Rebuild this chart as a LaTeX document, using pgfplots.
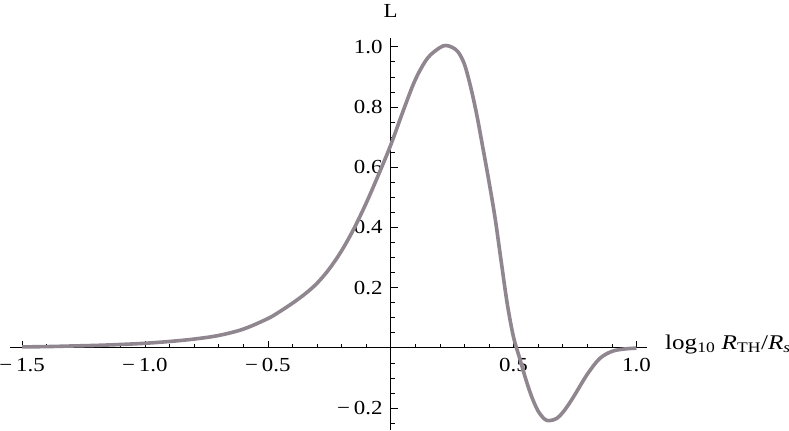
\documentclass[border=0pt]{standalone}
\usepackage{fontspec}
\setmainfont{Liberation Serif}
\usepackage{graphicx}
\usepackage{pgfplots}
\pgfplotsset{compat=1.18}
\definecolor{curve}{RGB}{143,134,143}
\newcommand{\tl}[1]{\scalebox{1.15}[1]{#1}}
\begin{document}
\fontsize{20}{23}\selectfont
\begin{tikzpicture}
\begin{axis}[
  scale only axis,
  width=637bp, height=392bp,
  axis lines=middle,
  axis line style={-, line width=0.7pt},
  xmin=-1.549, xmax=1.043,
  ymin=-0.273, ymax=1.029,
  xtick={-1.5,-1,-0.5,0.5,1},
  xticklabels={\tl{−\,1.5},\tl{−\,1.0},\tl{−\,0.5},\tl{0.5},\tl{1.0}},
  ytick={-0.2,0.2,0.4,0.6,0.8,1.0},
  yticklabels={\tl{−\,0.2},\tl{0.2},\tl{0.4},\tl{0.6},\tl{0.8},\tl{1.0}},
  minor xtick={-1.4,-1.3,-1.2,-1.1,-0.9,-0.8,-0.7,-0.6,-0.4,-0.3,-0.2,-0.1,0.1,0.2,0.3,0.4,0.6,0.7,0.8,0.9},
  minor ytick={-0.25,-0.15,-0.1,-0.05,0.05,0.1,0.15,0.25,0.3,0.35,0.45,0.5,0.55,0.65,0.7,0.75,0.85,0.9,0.95},
  tick align=inside,
  major tick length=7bp,
  minor tick length=4bp,
  tick style={black, line width=0.6pt},
  tick label style={font=\fontsize{20}{23}\selectfont},
  xticklabel style={anchor=base, inner sep=0pt, yshift=-23.5bp},
  yticklabel style={anchor=east, inner sep=0pt, xshift=-8bp},
  clip=false,
  xlabel={\scalebox{1.2}[1]{\fontsize{21}{24}\selectfont log\textsubscript{10} \textit{R}\textsubscript{TH}/\textit{R}\textsubscript{\textit{s}}}},
  ylabel={\tl{L}},
  xlabel style={anchor=base west, inner sep=0pt, at={(axis description cs:1,0.2097)}, xshift=18bp, yshift=-1.5bp},
  ylabel style={anchor=base, inner sep=0pt, at={(axis description cs:0.5976,1)}, yshift=20bp, font=\fontsize{20}{23}\selectfont},
]
\addplot[color=curve, line width=3.6bp, smooth, tension=0.55] coordinates {
(-1.5,0.003) (-1.4,0.004) (-1.3,0.006) (-1.2,0.008) (-1.1,0.011) (-1.0,0.015)
(-0.9,0.021) (-0.8,0.029) (-0.7,0.041) (-0.6,0.062) (-0.5,0.097) (-0.45,0.121)
(-0.4,0.148) (-0.35,0.178) (-0.3,0.214) (-0.25,0.262) (-0.2,0.322) (-0.15,0.395)
(-0.1,0.48) (-0.05,0.574) (0,0.673) (0.05,0.785) (0.1,0.89) (0.15,0.962)
(0.2,0.997) (0.225,1.004) (0.25,0.998) (0.275,0.982) (0.3,0.942) (0.325,0.868)
(0.35,0.775) (0.375,0.665) (0.4,0.552) (0.425,0.43) (0.45,0.285) (0.475,0.143)
(0.5,0.035) (0.525,-0.035) (0.55,-0.105) (0.575,-0.165) (0.6,-0.21) (0.625,-0.236)
(0.645,-0.242) (0.675,-0.235) (0.7,-0.215) (0.725,-0.187) (0.75,-0.155)
(0.8,-0.088) (0.85,-0.036) (0.9,-0.012) (0.95,-0.004) (1.0,-0.001)
};
\end{axis}
\pgfresetboundingbox
\path[use as bounding box] (-10bp,-1bp) rectangle (779bp,430bp);
\end{tikzpicture}
\end{document}
